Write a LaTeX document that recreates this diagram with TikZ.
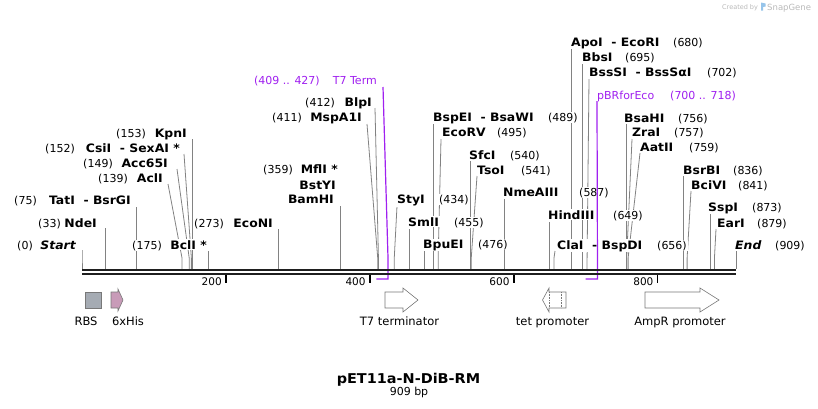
\documentclass[tikz,border=0pt]{standalone}
\usepackage{fontspec}
\setmainfont{DejaVu Sans}
\newfontfamily\enzfont[FakeStretch=1.07]{DejaVu Sans}
\definecolor{cutgray}{RGB}{130,130,130}
\definecolor{primer}{RGB}{160,32,240}
\definecolor{rbsfill}{RGB}{165,171,179}
\definecolor{hisfill}{RGB}{200,155,184}
\definecolor{featline}{RGB}{120,120,120}
\definecolor{wmgray}{RGB}{185,185,185}
\definecolor{wmblue}{RGB}{150,196,234}
\def\site#1{{82+#1*0.7195}}
% [top x] id, bp, top y  -- vertical when no top x is given
\newcommand\cutsite[4][]{%
  \coordinate (#2-s) at (\site{#3},269);
  \ifx\relax#1\relax\coordinate (#2-t) at (#2-s |- 0,#4);%
  \else\coordinate (#2-t) at (#1,#4);\fi
  \draw[cutline] (#2-t) -- ([yshift=11pt]#2-s) -- (#2-s);}
\tikzset{
  enz/.style={font=\enzfont\fontsize{11.6}{13}\selectfont\bfseries, fill=white, inner sep=1pt},
  bpnum/.style={font=\fontsize{11}{13}\selectfont, fill=white, inner sep=1pt},
  cutline/.style={cutgray, line width=0.8pt},
  feat/.style={draw=featline, line width=0.6pt, fill=white},
  flabel/.style={font=\fontsize{11.5}{13}\selectfont, inner sep=0pt, anchor=base},
}

\begin{document}
\begin{tikzpicture}[x=1pt,y=-1pt]
\useasboundingbox (0,0) rectangle (818,408);

% cut lines (labels are drawn over them)
\cutsite{Start}{0}{250}
\cutsite{NdeI}{33}{228}
\cutsite{TatI}{75}{207}
\cutsite[168]{AclI}{139}{184}
\cutsite[177]{Acc65I}{149}{169}
\cutsite[184]{CsiI}{152}{154}
\cutsite{KpnI}{153}{139}
\cutsite{BclI}{175}{251}
\cutsite{EcoNI}{273}{229}
\cutsite{BamHI}{359}{206}
\cutsite[367]{MspA1I}{411}{124}
\cutsite[375]{BlpI}{412}{108}
\cutsite[397]{StyI}{434}{206}
\cutsite{SmlI}{455}{229}
\cutsite{BpuEI}{476}{251}
\cutsite{BspEI}{489}{124}
\cutsite[441]{EcoRV}{495}{139}
\cutsite{SfcI}{540}{161}
\cutsite[477]{TsoI}{541}{176}
\cutsite{NmeAIII}{587}{199}
\cutsite{HindIII}{649}{222}
\cutsite[555]{ClaI}{656}{251}
\cutsite{ApoI}{680}{49}
\cutsite{BbsI}{695}{64}
\cutsite[589]{BssSI}{702}{79}
\cutsite{BsaHI}{756}{124}
\cutsite[632]{ZraI}{757}{139}
\cutsite[640]{AatII}{759}{153}
\cutsite{BsrBI}{836}{176}
\cutsite[691]{BciVI}{841}{191}
\cutsite{SspI}{873}{213}
\cutsite[716]{EarI}{879}{229}
\cutsite{End}{909}{251}

% enzymes, number on the left
\node[enz,anchor=base east] (Start) at (77,249) {\itshape Start};
\node[bpnum,anchor=base east] (Start-n) at (34,249) {(0)};
\node[enz,anchor=base east] (NdeI) at (98,227) {NdeI};
\node[bpnum,anchor=base east] (NdeI-n) at (62,227) {(33)};
\node[enz,anchor=base east] (TatI) at (132,204) {TatI~ - BsrGI};
\node[bpnum,anchor=base east] (TatI-n) at (38,204) {(75)};
\node[enz,anchor=base east] (AclI) at (164,182) {AclI};
\node[bpnum,anchor=base east] (AclI-n) at (129,182) {(139)};
\node[enz,anchor=base east] (Acc65I) at (169,167) {Acc65I};
\node[bpnum,anchor=base east] (Acc65I-n) at (114,167) {(149)};
\node[enz,anchor=base east] (CsiI) at (181,152) {CsiI~ - SexAI *};
\node[bpnum,anchor=base east] (CsiI-n) at (76,152) {(152)};
\node[enz,anchor=base east] (KpnI) at (188,137) {KpnI};
\node[bpnum,anchor=base east] (KpnI-n) at (147,137) {(153)};
\node[enz,anchor=base east] (BclI) at (208,249) {BclI *};
\node[bpnum,anchor=base east] (BclI-n) at (163,249) {(175)};
\node[enz,anchor=base east] (EcoNI) at (274,227) {EcoNI};
\node[bpnum,anchor=base east] (EcoNI-n) at (225,227) {(273)};
\node[enz,anchor=base east] (MflI) at (339,173) {MflI *};
\node[bpnum,anchor=base east] (MflI-n) at (294,173) {(359)};
\node[enz,anchor=base east] (BstYI) at (337,189) {BstYI};
\node[enz,anchor=base east] (BamHI) at (335,203) {BamHI};
\node[enz,anchor=base east] (MspA1I) at (363,121) {MspA1I};
\node[bpnum,anchor=base east] (MspA1I-n) at (303,121) {(411)};
\node[enz,anchor=base east] (BlpI) at (373,106) {BlpI};
\node[bpnum,anchor=base east] (BlpI-n) at (336,106) {(412)};

% enzymes, number on the right
\node[enz,anchor=base west] (StyI) at (396,203) {StyI};
\node[bpnum,anchor=base west] (StyI-n) at (438,203) {(434)};
\node[enz,anchor=base west] (SmlI) at (407,226) {SmlI};
\node[bpnum,anchor=base west] (SmlI-n) at (453,226) {(455)};
\node[enz,anchor=base west] (BpuEI) at (422,248) {BpuEI};
\node[bpnum,anchor=base west] (BpuEI-n) at (477,248) {(476)};
\node[enz,anchor=base west] (BspEI) at (432,121) {BspEI~ - BsaWI};
\node[bpnum,anchor=base west] (BspEI-n) at (547,121) {(489)};
\node[enz,anchor=base west] (EcoRV) at (441,136) {EcoRV};
\node[bpnum,anchor=base west] (EcoRV-n) at (496,136) {(495)};
\node[enz,anchor=base west] (SfcI) at (468,159) {SfcI};
\node[bpnum,anchor=base west] (SfcI-n) at (509,159) {(540)};
\node[enz,anchor=base west] (TsoI) at (476,174) {TsoI};
\node[bpnum,anchor=base west] (TsoI-n) at (520,174) {(541)};
\node[enz,anchor=base west] (NmeAIII) at (502,196) {NmeAIII};
\node[bpnum,anchor=base west] (NmeAIII-n) at (578,196) {(587)};
\node[enz,anchor=base west] (HindIII) at (547,219) {HindIII};
\node[bpnum,anchor=base west] (HindIII-n) at (612,219) {(649)};
\node[enz,anchor=base west] (ClaI) at (556,249) {ClaI~ - BspDI};
\node[bpnum,anchor=base west] (ClaI-n) at (656,249) {(656)};
\node[enz,anchor=base west] (ApoI) at (570,46) {ApoI~ - EcoRI};
\node[bpnum,anchor=base west] (ApoI-n) at (672,46) {(680)};
\node[enz,anchor=base west] (BbsI) at (581,61) {BbsI};
\node[bpnum,anchor=base west] (BbsI-n) at (624,61) {(695)};
\node[enz,anchor=base west] (BssSI) at (588,76) {BssSI~ - BssSαI};
\node[bpnum,anchor=base west] (BssSI-n) at (706,76) {(702)};
\node[enz,anchor=base west] (BsaHI) at (623,122) {BsaHI};
\node[bpnum,anchor=base west] (BsaHI-n) at (677,122) {(756)};
\node[enz,anchor=base west] (ZraI) at (631,136) {ZraI};
\node[bpnum,anchor=base west] (ZraI-n) at (673,136) {(757)};
\node[enz,anchor=base west] (AatII) at (639,151) {AatII};
\node[bpnum,anchor=base west] (AatII-n) at (688,151) {(759)};
\node[enz,anchor=base west] (BsrBI) at (682,174) {BsrBI};
\node[bpnum,anchor=base west] (BsrBI-n) at (732,174) {(836)};
\node[enz,anchor=base west] (BciVI) at (690,189) {BciVI};
\node[bpnum,anchor=base west] (BciVI-n) at (737,189) {(841)};
\node[enz,anchor=base west] (SspI) at (707,211) {SspI};
\node[bpnum,anchor=base west] (SspI-n) at (751,211) {(873)};
\node[enz,anchor=base west] (EarI) at (716,227) {EarI};
\node[bpnum,anchor=base west] (EarI-n) at (756,227) {(879)};
\node[enz,anchor=base west] (End) at (734,249) {\itshape End};
\node[bpnum,anchor=base west] (End-n) at (774,249) {(909)};

% primers
\node[bpnum,anchor=base east,text=primer] (T7T) at (378,84) {T7 Term};
\node[bpnum,anchor=base east,text=primer] (T7T-n) at (321,84) {(409 .. 427)};
\coordinate (T7T-t) at (383,87);
\coordinate (T7T-e) at (\site{409},279);
\draw[primer,line width=1.2pt] (T7T-t) -- (388,258) -- (388,279) -- (T7T-e);
\node[bpnum,anchor=base west,text=primer] (pBR) at (596,99) {pBRforEco};
\node[bpnum,anchor=base west,text=primer] (pBR-n) at (669,99) {(700 .. 718)};
\coordinate (pBR-e) at (\site{700},279);
\draw[primer,line width=1.2pt] ([shift={(1pt,-2pt)}]pBR.base west) -- (597.5,279) -- (pBR-e);

% sequence
\draw[line width=2pt,black!88] (82,270.3) -- (736,270.3);
\draw[line width=2.6pt,black!88] (82,274) -- (736,274);
\foreach \t in {200,400,600,800}{
  \draw[line width=1.6pt] (\site{\t},275) coordinate (tick\t) -- ++(0,8);
  \node[font=\fontsize{10.5}{12}\selectfont,anchor=base east,inner sep=0pt] (tl\t) at ([xshift=-4pt,yshift=-10pt]tick\t) {\t};
}

% features
\draw[draw=featline,line width=0.6pt,fill=rbsfill] (85,292) rectangle (101,308);
\draw[draw=featline,line width=0.6pt,fill=hisfill] (111,292) -- (118,292) -- (118,289) -- (123,300)
  -- (118,311) -- (118,308) -- (111,308) -- cycle;
\draw[feat] (385,292) -- (403,292) -- (403,288) -- (418,300) -- (403,312) -- (403,308) -- (385,308) -- cycle;
\draw[feat] (566,292) -- (549,292) -- (549,288) -- (542.5,300) -- (549,312) -- (549,308) -- (566,308) -- cycle;
\draw[featline,line width=0.6pt,densely dotted] (549,292) -- (549,308) (561,292) -- (561,308);
\draw[feat] (645,292) -- (700,292) -- (700,288) -- (719,300) -- (700,312) -- (700,308) -- (645,308) -- cycle;
\node[flabel] (RBS) at (86,325) {RBS};
\node[flabel] (His) at (128,325) {6xHis};
\node[flabel] (T7) at (399.5,325) {T7 terminator};
\node[flabel] (tet) at (552.5,325) {tet promoter};
\node[flabel] (AmpR) at (680,325) {AmpR promoter};

% title
\node[font=\enzfont\fontsize{13.5}{15}\selectfont\bfseries,anchor=base,inner sep=0pt] (name) at (408.5,383) {pET11a-N-DiB-RM};
\node[font=\fontsize{11}{13}\selectfont,anchor=base,inner sep=0pt] (len) at (409,395) {909 bp};

% watermark
\node[anchor=base west,inner sep=0pt,text=wmgray,font=\fontsize{6.5}{7}\selectfont] (wm) at (722,9) {Created by};
\fill[wmblue] (761,2.5) -- (765.5,3.5) -- (765.5,6.5) -- (763,7) -- (763,10.5) -- (761,10.5) -- cycle;
\node[anchor=base west,inner sep=0pt,text=wmgray,font=\fontsize{8.5}{9}\selectfont] (sg) at (767,10) {SnapGene};
\end{tikzpicture}
\end{document}
